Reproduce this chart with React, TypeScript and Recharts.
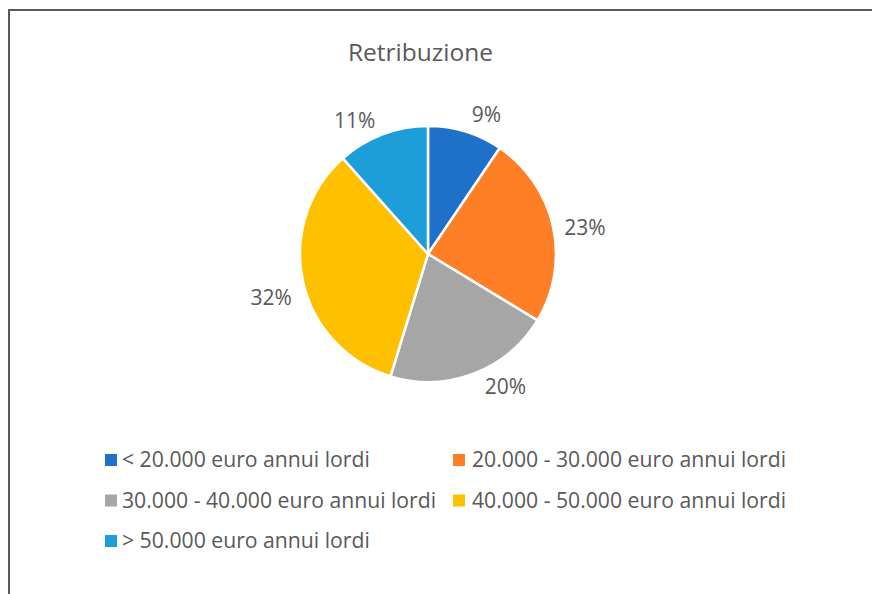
import React from 'react';
import { PieChart, Pie, Cell, Legend } from 'recharts';

const categories = [
  '< 20.000 euro annui lordi',
  '20.000 - 30.000 euro annui lordi',
  '30.000 - 40.000 euro annui lordi',
  '40.000 - 50.000 euro annui lordi',
  '> 50.000 euro annui lordi',
];
const shares = [9, 23, 20, 32, 11];
const COLORS = ['#1F70C8', '#FF7F27', '#A6A6A6', '#FFC000', '#1E9ED8'];

// Excel "best fit" puts some labels a bit off the mid-angle; small nudges per slice
const LABEL_NUDGE = [
  [15, 2],
  [6, 6],
  [24, -8],
  [-6, 11],
  [-20, 7],
];

const data = categories.map((name, i) => ({ name, value: shares[i] }));

const FONT = '"Open Sans", sans-serif';
const TEXT = '#595959';
const RADIAN = Math.PI / 180;

const renderLabel = (props: any) => {
  const { cx, cy, midAngle, outerRadius, value, index } = props;
  const txt = `${value}%`;
  const w = txt.length * 10.5;
  const h = 15;
  const cos = Math.cos(-midAngle * RADIAN);
  const sin = Math.sin(-midAngle * RADIAN);
  const d = outerRadius + 9.5 + Math.abs(cos) * w / 2 + Math.abs(sin) * h / 2;
  const [nx, ny] = LABEL_NUDGE[index] || [0, 0];
  const x = cx + d * cos + nx;
  const y = cy + d * sin + ny;
  return (
    <text x={x} y={y + 7.5} textAnchor="middle" fill={TEXT} fontSize={21} fontFamily={FONT}>
      {txt}
    </text>
  );
};

// legend laid out in two columns like the original
const renderLegend = () => (
  <svg width={872} height={120}>
    {categories.map((c, i) => {
      const col = i % 2;
      const row = Math.floor(i / 2);
      const x = col === 0 ? 105 : 453;
      const base = 27 + row * 40.5;
      return (
        <g key={c}>
          <rect x={x} y={base - 13} width={12} height={12} fill={COLORS[i]} />
          <text x={x + (col === 0 ? 17 : 19)} y={base} fill={TEXT} fontSize={21.2} fontFamily={FONT}>
            {c}
          </text>
        </g>
      );
    })}
  </svg>
);

export default function App() {
  return (
    <div style={{ position: 'absolute', left: 0, top: 0, width: 872, height: 594, background: '#fff' }}>
      <div
        style={{
          position: 'absolute',
          left: 8,
          top: 9,
          width: 864,
          height: 585,
          borderTop: '2px solid #5a5a5a',
          borderLeft: '2px solid #5a5a5a',
        }}
      />
      <PieChart
        width={872}
        height={594}
        margin={{ top: 0, right: 0, bottom: 0, left: 0 }}
        style={{ position: 'absolute', left: 0, top: 0 }}
      >
        <text x={420.5} y={61} textAnchor="middle" fill={TEXT} fontSize={24.5} fontFamily={FONT}>
          Retribuzione
        </text>
        <Pie
          data={data}
          dataKey="value"
          nameKey="name"
          cx={428}
          cy={254}
          outerRadius={128}
          startAngle={90}
          endAngle={-270}
          stroke="#fff"
          strokeWidth={2.5}
          label={renderLabel}
          labelLine={false}
          isAnimationActive={false}
        >
          {data.map((d, i) => (
            <Cell key={d.name} fill={COLORS[i]} />
          ))}
        </Pie>
        <Legend content={renderLegend} wrapperStyle={{ position: 'absolute', left: 0, top: 440, width: 872 }} />
      </PieChart>
    </div>
  );
}
